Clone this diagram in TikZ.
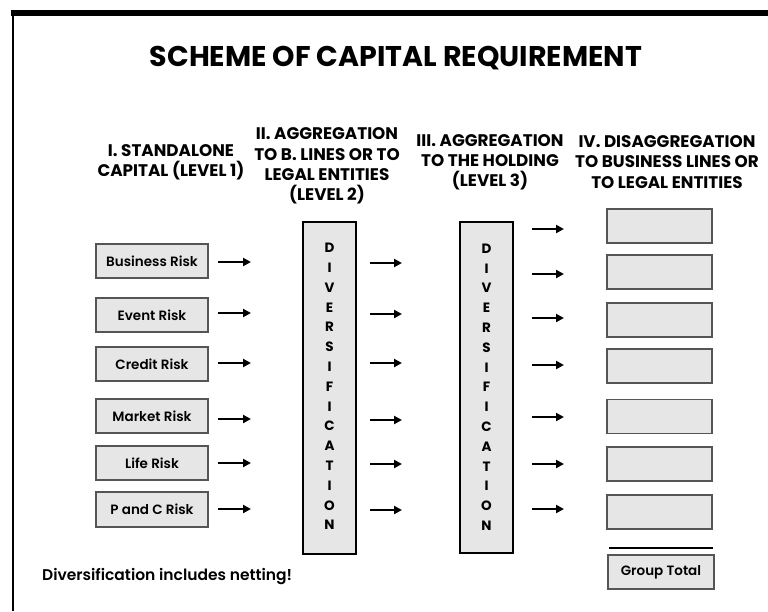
\documentclass[tikz,border=0pt]{standalone}
\usepackage{fontspec}
\setmainfont{Poppins}
\newfontfamily\semifont{Poppins SemiBold}
\usetikzlibrary{arrows.meta}
\definecolor{boxfill}{HTML}{E6E6E6}
\definecolor{boxline}{HTML}{555555}
\tikzset{
  riskbox/.style={draw=boxline, line width=1.2pt, fill=boxfill, minimum width=112pt, minimum height=34pt, inner sep=0pt, font=\semifont\fontsize{13.5}{15}\selectfont},
  outbox/.style={draw=boxline, line width=1.2pt, fill=boxfill, minimum width=105pt, minimum height=34pt, inner sep=0pt},
  divbox/.style={draw=black, line width=2.2pt, fill=boxfill, minimum width=53pt, minimum height=332pt, inner sep=0pt},
  divletter/.style={font=\bfseries\fontsize{13.5}{14}\selectfont, inner sep=0pt},
  header/.style={font=\bfseries\fontsize{16.8}{20.2}\selectfont, align=center, inner sep=0pt},
  arr/.style={line width=2pt, -{Triangle[length=8pt,width=8pt]}},
}
\begin{document}
\begin{tikzpicture}[x=1pt,y=-1pt]
\useasboundingbox (0,0) rectangle (768,611);
% frame
\draw[line width=6pt] (11,12.5) -- (768,12.5);
\draw[line width=2pt] (13,10) -- (13,611);
% title
\node[font=\bfseries\fontsize{28.5}{30}\selectfont, inner sep=0pt] (title) at (396,58) {SCHEME OF CAPITAL REQUIREMENT};
% headers
\node[header] (h1) at (171,162) {I. STANDALONE\\CAPITAL (LEVEL 1)};
\node[header] (h2) at (327,166) {II. AGGREGATION\\TO B. LINES OR TO\\LEGAL ENTITIES\\(LEVEL 2)};
\node[header] (h3) at (490,162) {III. AGGREGATION\\TO THE HOLDING\\(LEVEL 3)};
\node[header] (h4) at (667,162) {IV. DISAGGREGATION\\TO BUSINESS LINES OR\\TO LEGAL ENTITIES};
% risk boxes
\node[riskbox] (r1) at (152,261) {Business Risk};
\node[riskbox] (r2) at (152,315) {Event Risk};
\node[riskbox] (r3) at (152,364) {Credit Risk};
\node[riskbox] (r4) at (152,416) {Market Risk};
\node[riskbox] (r5) at (152,463) {Life Risk};
\node[riskbox, minimum height=35pt] (r6) at (152,509.5) {P and C Risk};
% diversification boxes
\node[divbox] (d2) at (329.5,388) {};
\node[divbox, minimum height=331pt] (d3) at (486.5,387.5) {};
\foreach \ch [count=\i from 0] in {D,I,V,E,R,S,I,F,I,C,A,T,I,O,N}{
  \node[divletter] (da\i) at (329.5,{248+19.8*\i}) {\ch};
  \node[divletter] (db\i) at (486.5,{248.5+19.8*\i}) {\ch};
}
% arrows level 1 -> 2
\foreach \y [count=\i] in {262,313,363,419,463,509}{
  \coordinate (a1s\i) at (218,\y);
  \coordinate (a1e\i) at (251,\y);
  \draw[arr] (a1s\i) -- (a1e\i);
}
% arrows level 2 -> 3
\foreach \y [count=\i] in {263,314,363,420,464,510}{
  \coordinate (a2s\i) at (370,\y);
  \coordinate (a2e\i) at (402,\y);
  \draw[arr] (a2s\i) -- (a2e\i);
}
% arrows level 3 -> 4
\foreach \y [count=\i] in {229,274,318,365,417,464,509}{
  \coordinate (a3s\i) at (532,\y);
  \coordinate (a3e\i) at (564,\y);
  \draw[arr] (a3s\i) -- (a3e\i);
}
% output boxes
\foreach \y [count=\i] in {226,272,320,366,416.5,464,512}{
  \node[outbox] (o\i) at (659.5,\y) {};
}
% total
\coordinate (tl) at (609,548);
\coordinate (tr) at (713,548);
\draw[line width=2.5pt] (tl) -- (tr);
\node[outbox, minimum width=106pt, font=\semifont\fontsize{13.5}{15}\selectfont] (gt) at (661,572) {Group Total};
% note
\node[anchor=west, inner sep=0pt, font=\semifont\fontsize{15.5}{17}\selectfont] (note) at (42,577) {Diversification includes netting!};
\end{tikzpicture}
\end{document}
